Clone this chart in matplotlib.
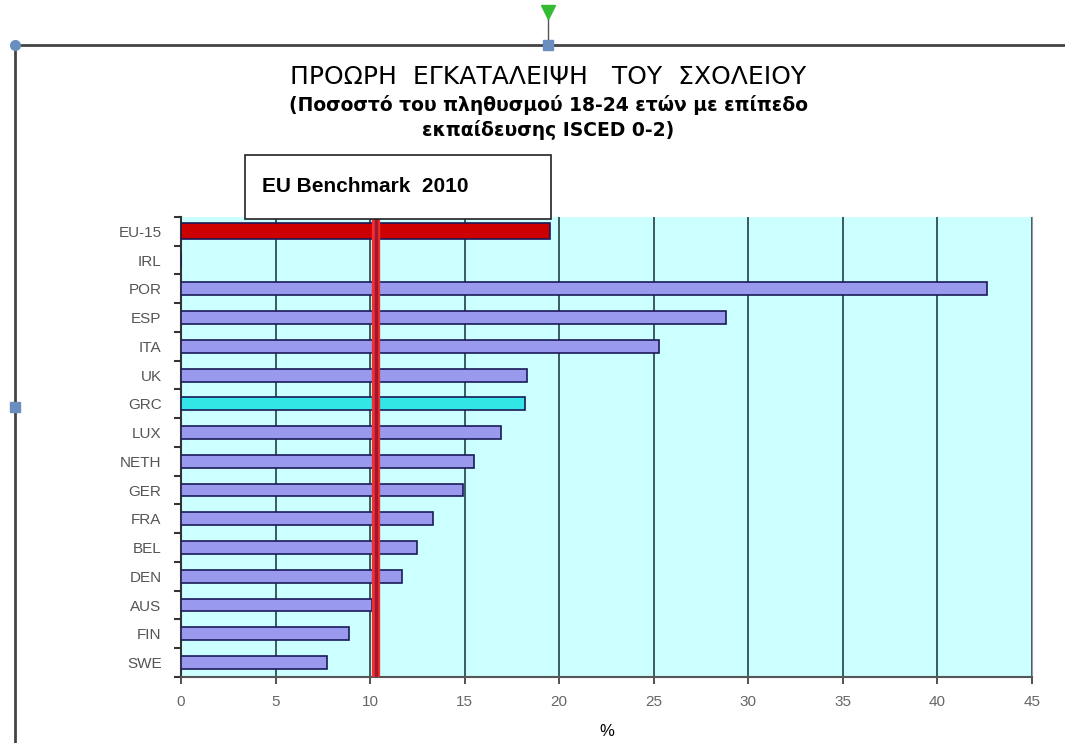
import numpy as np
import matplotlib.pyplot as plt
from matplotlib.lines import Line2D
from matplotlib.patches import Rectangle

plt.rcParams['font.family'] = ['Liberation Sans', 'DejaVu Sans']

countries = ['EU-15', 'IRL', 'POR', 'ESP', 'ITA', 'UK', 'GRC', 'LUX', 'NETH',
             'GER', 'FRA', 'BEL', 'DEN', 'AUS', 'FIN', 'SWE']
values = [19.5, 0.0, 42.6, 28.8, 25.3, 18.3, 18.2, 16.9, 15.5,
          14.9, 13.3, 12.5, 11.7, 10.1, 8.9, 7.7]
benchmark = 10.3
xticks = [0, 5, 10, 15, 20, 25, 30, 35, 40, 45]

title = 'ΠΡΟΩΡΗ  ΕΓΚΑΤΑΛΕΙΨΗ   ΤΟΥ  ΣΧΟΛΕΙΟΥ'
subtitle = '(Ποσοστό του πληθυσμού 18-24 ετών με επίπεδο\nεκπαίδευσης ISCED 0-2)'

fig = plt.figure(figsize=(10.65, 7.43), dpi=100)
ax = fig.add_axes([0.170, 0.089, 0.799, 0.619])
ax.set_facecolor('#CCFFFF')

y = np.arange(len(countries))
colors = []
for c in countries:
    if c == 'EU-15':
        colors.append('#CC0000')
    elif c == 'GRC':
        colors.append('#33E6E6')
    else:
        colors.append('#9999EE')
heights = [0.55 if c == 'EU-15' else 0.45 for c in countries]
ax.barh(y, values, height=heights, color=colors, edgecolor='#1A1A5A',
        linewidth=1.2, zorder=3)

ax.axvline(benchmark, color='#F03030', linewidth=6, zorder=4)
ax.axvline(benchmark, color='#A01830', linewidth=2.5, zorder=4)

ax.set_xlim(0, 45)
ax.set_ylim(len(countries) - 0.5, -0.5)
ax.set_xticks(xticks)
ax.set_xticklabels([str(t) for t in xticks], color='#666666', fontsize=11)
ax.set_yticks(y)
ax.set_yticklabels(countries, color='#555555', fontsize=11)
ax.tick_params(axis='y', length=0, pad=14)
ax.set_yticks(np.arange(len(countries) + 1) - 0.5, minor=True)
ax.tick_params(axis='y', which='minor', length=5, width=1.5, color='#333333')
ax.tick_params(axis='x', length=5, width=1.2, color='#333333', pad=8)
ax.xaxis.grid(True, color='#2F4F4F', linewidth=1.3, zorder=1)
ax.set_axisbelow(True)
ax.spines['top'].set_visible(False)
ax.spines['right'].set_color('#999999')
ax.spines['left'].set_color('#333333')
ax.spines['bottom'].set_color('#555555')
ax.spines['left'].set_linewidth(1.5)
ax.spines['bottom'].set_linewidth(1.5)
ax.set_xlabel('%', fontsize=12, labelpad=11)

fig.text(0.515, 0.896, title, ha='center', va='center', fontsize=18,
         family=['DejaVu Sans'])
fig.text(0.515, 0.842, subtitle, ha='center', va='center', fontsize=13.5,
         fontweight='bold', linespacing=1.3, family=['DejaVu Sans'])

# benchmark label box
fig.patches.append(Rectangle((245 / 1065, 1 - 219 / 743), 306 / 1065, 64 / 743,
                             transform=fig.transFigure, facecolor='white',
                             edgecolor='#222222', linewidth=1.2, zorder=5))
fig.text(262 / 1065, 1 - 186 / 743, 'EU Benchmark  2010', fontsize=15,
         fontweight='bold', va='center', zorder=6)

# selection frame of the screenshot
fig.add_artist(Line2D([15 / 1065, 1], [1 - 45 / 743] * 2, color='#444444', lw=2))
fig.add_artist(Line2D([15 / 1065] * 2, [0, 1 - 45 / 743], color='#444444', lw=2))
fig.add_artist(Line2D([548 / 1065] * 2, [1 - 45 / 743, 1 - 14 / 743], color='#555555', lw=1))
fig.add_artist(Line2D([15 / 1065], [1 - 45 / 743], marker='o', ms=7, color='#6A8EC0'))
fig.add_artist(Line2D([548 / 1065], [1 - 45 / 743], marker='s', ms=7, color='#6A8EC0'))
fig.add_artist(Line2D([15 / 1065], [1 - 407 / 743], marker='s', ms=7, color='#6A8EC0'))
fig.add_artist(Line2D([548 / 1065], [1 - 12 / 743], marker='v', ms=10, color='#33BB33'))

fig.savefig('out.png', dpi=100)
